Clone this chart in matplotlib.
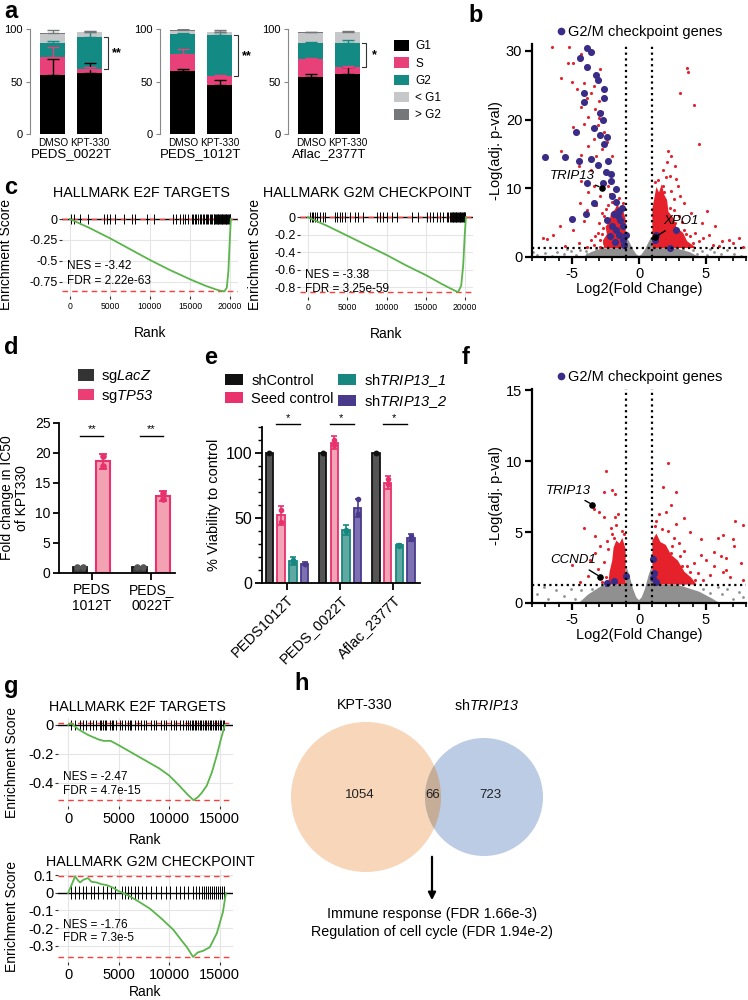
#!/usr/bin/env python3
import matplotlib
matplotlib.use('Agg')
import matplotlib.pyplot as plt
import numpy as np
from matplotlib.patches import Patch, Circle
from matplotlib.lines import Line2D

plt.rcParams['font.family'] = ['Liberation Sans', 'DejaVu Sans']
plt.rcParams['mathtext.fontset'] = 'custom'
plt.rcParams['mathtext.rm'] = 'Liberation Sans'
plt.rcParams['mathtext.it'] = 'Liberation Sans:italic'
# \mathsf is used for italic gene names so that digits are slanted as well
plt.rcParams['mathtext.sf'] = 'Liberation Sans:italic'
plt.rcParams['axes.unicode_minus'] = False

# ---------------- data ----------------
# a: cell cycle phases (%), stacked from the bottom
phases = ['G1', 'S', 'G2', '< G1', '> G2']
a_lines = ['PEDS_0022T', 'PEDS_1012T', 'Aflac_2377T']
a_treat = ['DMSO', 'KPT-330']
a_0022_dmso = [56, 17, 14, 8, 1]
a_0022_dmso_err = [15, 10, 2, 1, 3]
a_0022_kpt = [58, 4, 30, 5, 0.5]
a_0022_kpt_err = [10, 1.5, 5, 1, 1]
a_1012_dmso = [60, 16, 19, 3.5, 0.5]
a_1012_dmso_err = [2, 5, 1, 1, 1]
a_1012_kpt = [47, 8, 39, 3, 0.5]
a_1012_kpt_err = [4, 1, 3, 1, 2]
a_2377_dmso = [54, 17, 16, 9, 1]
a_2377_dmso_err = [3, 1.5, 0.5, 0.5, 0.5]
a_2377_kpt = [57, 7, 23, 10, 0.5]
a_2377_kpt_err = [7, 1, 3, 0.5, 0.5]
a_sig = ['**', '**', '*']

# b: volcano, KPT-330 vs DMSO  (log2FC, -log10 adj p)
b_g2m = [(-3.9, 30.4), (-3.6, 29.9), (-4.4, 29.0), (-3.9, 27.6), (-3.2, 26.5), (-3.1, 25.8),
         (-2.6, 24.5), (-4.1, 23.8), (-2.6, 23.1), (-4.1, 22.5), (-2.9, 20.9), (-2.7, 19.9),
         (-3.4, 18.8), (-4.7, 18.2), (-2.9, 17.8), (-2.4, 17.5), (-2.6, 16.5), (-7.0, 14.5),
         (-5.5, 14.5), (-4.5, 13.9), (-3.6, 14.2), (-2.3, 14.0), (-3.1, 13.4), (-2.5, 12.4),
         (-2.1, 12.1), (-3.9, 10.8), (-2.1, 11.1), (-1.7, 9.9), (-2.0, 8.9), (-1.7, 8.0),
         (-3.4, 7.8), (-1.5, 6.7), (-1.6, 5.9), (-5.0, 5.5), (-4.0, 6.2), (-2.4, 5.4),
         (-1.4, 5.4), (-2.0, 4.5), (-1.2, 4.5), (-1.7, 4.0), (-1.0, 3.2), (-1.5, 3.2),
         (-1.2, 2.5), (-2.2, 3.0), (-1.9, 6.3), (-1.3, 7.2), (-1.8, 2.2), (-1.1, 1.7),
         (-2.7, 10.7), (2.8, 4.0), (1.3, 3.2), (2.3, 1.3), (1.2, 2.5)]
b_sig = [(-6.5, 30.5), (-5.2, 30.5), (-4.3, 29.6), (-5.3, 28.2), (-4.9, 28.2), (-5.8, 26.1),
         (-5.0, 25.4), (-2.9, 27.3), (-4.1, 25.3), (-3.4, 24.9), (-4.6, 24.5), (-3.6, 23.9),
         (-3.9, 23.1), (-3.0, 22.7), (-4.3, 21.9), (-3.3, 21.6), (-2.8, 21.1), (-3.8, 20.4),
         (-3.0, 20.3), (-4.1, 19.4), (-3.1, 19.2), (-4.9, 18.9), (-2.6, 18.2), (-3.4, 17.2),
         (-2.4, 16.7), (-3.8, 16.2), (-2.8, 15.7), (-5.8, 15.5), (-4.3, 14.9), (-3.2, 14.7),
         (-2.0, 14.7), (-4.5, 13.3), (-3.6, 12.7), (-2.5, 12.3), (-4.3, 11.1), (-3.4, 10.3),
         (-2.3, 10.3), (-3.8, 9.4), (-2.9, 8.9), (-4.4, 7.9), (-3.2, 7.6), (-3.9, 6.9),
         (-2.8, 6.4), (-5.9, 4.5), (-4.1, 5.2), (-4.9, 4.0), (-3.1, 3.5), (-7.2, 2.8),
         (-6.9, 2.6), (-3.6, 2.5), (-2.6, 2.0), (-3.4, 1.8), (-6.4, 3.2), (-2.2, 9.2),
         (-2.5, 7.0), (-3.0, 5.0), (-2.7, 4.2), (-3.3, 3.0), (-4.5, 2.0), (-5.5, 1.6),
         (-3.9, 1.5), (-2.9, 1.5), (-2.8, 3.3), (-2.9, 2.5), (-2.3, 7.6), (-2.0, 8.0),
         (-1.5, 8.6), (-1.2, 7.9), (-2.6, 5.9),
         (3.6, 27.5), (3.7, 26.9), (4.1, 22.1), (3.1, 23.8), (4.5, 16.5), (2.2, 15.5),
         (2.7, 13.3), (2.3, 11.8), (2.9, 10.3), (2.6, 8.4), (3.4, 7.9), (1.9, 9.4),
         (3.9, 6.4), (5.1, 6.7), (4.7, 5.0), (5.7, 4.5), (3.4, 4.0), (4.2, 3.5),
         (5.2, 3.2), (6.2, 2.3), (6.7, 2.5), (7.5, 2.8), (7.0, 2.0), (4.5, 2.3),
         (3.2, 2.0), (5.5, 1.8), (1.8, 12.7), (2.1, 13.8), (2.4, 14.7), (2.8, 11.3),
         (1.8, 10.3), (3.0, 6.0), (2.7, 5.0), (3.8, 3.0), (4.8, 2.8), (6.0, 1.6),
         (7.8, 1.5), (3.1, 8.9), (2.3, 7.2), (1.4, 11.2), (1.2, 10.9), (2.4, 9.6),
         (2.6, 6.9), (3.2, 5.1), (3.5, 3.3), (4.0, 2.0), (2.0, 11.6)]
b_sig_core_dn = [(-2.6, 1.3), (-2.7, 2.4), (-2.4, 3.3), (-2.5, 4.4), (-2.2, 5.2), (-2.1, 6.4),
                 (-1.8, 6.9), (-1.6, 7.8), (-1.4, 6.6), (-1.2, 6.9), (-1.0, 5.5), (-1.0, 1.3)]
b_sig_core_up = [(1.0, 1.3), (1.0, 7.0), (1.15, 8.6), (1.3, 10.2), (1.5, 9.4), (1.7, 10.6),
                 (1.9, 9.0), (2.1, 8.3), (2.2, 6.6), (2.6, 5.6), (2.8, 4.3), (3.3, 3.5),
                 (3.6, 2.3), (4.1, 1.6), (4.3, 1.3)]
b_ns_core = [(-4.2, 0.0), (-3.6, 0.7), (-2.8, 1.25), (-1.0, 1.3), (-0.95, 3.0), (-0.7, 2.1),
             (-0.45, 1.1), (-0.2, 0.4), (0.0, 0.15), (0.2, 0.4), (0.45, 1.1), (0.7, 2.1),
             (0.95, 3.0), (1.0, 1.3), (2.8, 1.25), (3.8, 0.7), (4.5, 0.0)]
b_ns = [(-7.6, 0.3), (-7.0, 0.6), (-6.5, 0.2), (-6.1, 0.8), (-5.6, 0.4), (-5.1, 0.9),
        (-4.7, 0.3), (-4.4, 1.0), (4.7, 0.9), (5.1, 0.3), (5.6, 0.7), (6.1, 0.4),
        (6.6, 1.0), (7.1, 0.5), (7.6, 0.2), (5.3, 1.1), (-5.4, 1.1), (-7.9, 0.8),
        (-4.0, 0.9), (-3.9, 0.4), (4.0, 1.0), (4.3, 0.5), (-3.2, 1.2), (3.3, 1.15)]
b_labels = ['TRIP13', 'XPO1']
b_label_pts = [(-2.8, 10.1), (1.2, 2.9)]

# c: GSEA KPT-330
c_e2f_rank = [0, 2500, 5000, 7500, 10000, 12500, 15000, 17000, 18500, 19300, 19600, 19800, 19950, 20100]
c_e2f_es = [0, -0.11, -0.23, -0.36, -0.49, -0.61, -0.72, -0.80, -0.85, -0.865, -0.82, -0.62, -0.30, 0.0]
c_e2f_hits = [100, 500, 1250, 2200, 4200, 4600, 5000, 5600, 6700, 7700, 8100, 9600, 10500, 12900,
              13300, 13700, 14100, 14400, 14800, 15200, 15400, 15600, 15800, 16000, 16250, 16400,
              16600, 16800, 17000, 17150, 17300, 17500, 17650, 17800, 17950, 18050, 18150, 18250,
              18350, 18450, 18550, 18650, 18750, 18850, 18950, 19050, 19150, 19250, 19350, 19450,
              19550, 19650, 19750, 19850, 19950, 20050]
c_g2m_rank = [0, 2500, 5000, 7500, 10000, 12500, 15000, 17000, 18300, 19100, 19500, 19750, 19950, 20100]
c_g2m_es = [0, -0.10, -0.21, -0.32, -0.43, -0.55, -0.66, -0.76, -0.82, -0.855, -0.78, -0.55, -0.20, 0.0]
c_g2m_hits = [250, 470, 680, 890, 1100, 1530, 1950, 2170, 3440, 3650, 4080, 4290, 4710, 5350,
              5990, 6410, 7050, 8750, 9170, 9600, 10020, 10660, 11300, 13210, 14060, 15120,
              15540, 15960, 16390, 16820, 17240, 17670, 17880, 18100, 18200, 18300, 18400,
              18500, 18600, 18700, 18800, 18900, 19000, 19100, 19200, 19300, 19400, 19500,
              19600, 19700, 19800, 19900, 20000]
c_stats = [('-3.42', '2.22e-63'), ('-3.38', '3.25e-59')]

# d: IC50 fold change
d_lines = ['PEDS\n1012T', 'PEDS_\n0022T']
d_lacz = [1.0, 1.0]
d_tp53 = [18.6, 12.8]
d_tp53_err = [1.3, 0.8]
d_lacz_pts = [[1.0, 1.0], [1.0, 1.0]]
d_tp53_pts = [[19.5, 17.8], [13.3, 12.3]]

# e: viability
e_lines = ['PEDS1012T', 'PEDS_0022T', 'Aflac_2377T']
e_groups = ['shControl', 'Seed control', 'sh$\\mathsf{TRIP13\\_1}$', 'sh$\\mathsf{TRIP13\\_2}$']
e_shctrl = [100, 100, 100]
e_seed = [52, 108, 77]
e_t1 = [17, 41, 29]
e_t2 = [15, 58, 35]
e_seed_err = [7, 5, 5]
e_t1_err = [3, 4, 1]
e_t2_err = [1, 7, 3]
e_seed_pts = [[56, 47], [110, 106], [80, 76]]
e_t1_pts = [[17.5, 16.5], [41, 40], [29, 28.5]]
e_t2_pts = [[15, 14.5], [65, 53], [34, 36]]

# f: volcano, shTRIP13
f_g2m = [(-2.4, 1.43), (-1.9, 1.57), (-1.0, 1.92), (1.03, 3.08), (1.1, 2.09), (1.04, 1.74), (1.25, 1.48)]
f_sig = [(-2.5, 9.3), (-2.6, 7.8), (-2.0, 8.0), (-1.8, 7.7), (-4.1, 5.3), (-3.4, 6.6), (-3.0, 6.4),
         (-2.6, 6.1), (-1.8, 6.1), (-1.6, 6.3), (-2.1, 5.3), (-1.7, 5.5), (-2.0, 4.9), (-3.3, 4.7),
         (-1.9, 4.6), (-2.9, 4.0), (-3.3, 3.5), (-5.0, 2.7), (-3.7, 3.0), (-2.3, 3.8), (-3.8, 1.9),
         (-4.4, 1.5), (-3.1, 2.4), (-2.6, 2.9), (-2.5, 1.8), (-2.8, 1.5), (-2.4, 4.4),
         (-1.3, 5.1), (-1.1, 4.9),
         (2.2, 9.9), (1.8, 8.2), (2.8, 7.8), (2.4, 6.9), (2.0, 6.4), (1.5, 6.3), (3.4, 6.0),
         (2.8, 5.6), (2.2, 5.1), (3.8, 5.0), (4.6, 4.5), (5.9, 4.6), (6.3, 4.8), (7.0, 4.5),
         (7.1, 4.0), (7.8, 5.5), (7.2, 5.8), (5.6, 3.6), (6.1, 3.3), (6.5, 3.2), (6.5, 2.3),
         (7.6, 2.8), (6.8, 1.85), (4.1, 2.8), (3.8, 2.2), (3.4, 3.7), (6.3, 2.2), (7.8, 1.6),
         (4.2, 1.6), (2.4, 3.5), (3.0, 4.2), (5.0, 3.0), (5.3, 2.0), (4.6, 3.4), (2.6, 4.6),
         (3.2, 2.6), (1.2, 5.4), (1.7, 5.2), (2.5, 4.0), (3.1, 3.3), (3.6, 2.6), (4.4, 2.1),
         (4.8, 1.6), (5.6, 2.6), (1.3, 5.8)]
f_sig_core_dn = [(-2.3, 1.3), (-2.2, 2.2), (-2.0, 3.0), (-1.9, 3.9), (-1.7, 4.4), (-1.45, 4.2),
                 (-1.25, 4.6), (-1.0, 3.8), (-1.0, 1.3)]
f_sig_core_up = [(1.0, 1.3), (1.0, 4.4), (1.3, 4.9), (1.6, 4.3), (2.0, 4.1), (2.4, 3.4),
                 (2.9, 3.0), (3.4, 2.2), (3.9, 1.8), (4.3, 1.3)]
f_ns_core = [(-4.5, 0.0), (-3.8, 0.6), (-2.8, 1.2), (-1.0, 1.3), (-0.95, 2.6), (-0.7, 1.9),
             (-0.45, 1.0), (-0.2, 0.4), (0.0, 0.2), (0.2, 0.4), (0.45, 1.0), (0.7, 1.9),
             (0.95, 2.6), (1.0, 1.3), (3.0, 1.25), (4.5, 0.8), (5.5, 0.3), (6.0, 0.0)]
f_ns = [(-7.6, 0.6), (-6.8, 0.3), (-6.2, 0.9), (-5.6, 0.5), (-5.1, 1.0), (-4.8, 0.3), (6.2, 0.6),
        (6.6, 1.0), (7.0, 0.3), (7.5, 0.8), (5.9, 1.1), (-7.1, 1.1), (-4.3, 0.9), (7.8, 0.4),
        (-3.5, 1.0), (4.8, 1.0), (5.3, 0.7)]
f_labels = ['TRIP13', 'CCND1']
f_label_pts = [(-3.5, 6.95), (-2.9, 1.85)]

# g: GSEA shTRIP13
g_e2f_rank = [0, 300, 1000, 2000, 3000, 3500, 4200, 5000, 6000, 7000, 8000, 9000, 10000, 11000,
              11800, 12400, 12800, 13200, 13700, 14200, 14700, 15100, 15500]
g_e2f_es = [0, 0.012, -0.03, -0.07, -0.10, -0.11, -0.11, -0.14, -0.18, -0.22, -0.26, -0.30,
            -0.35, -0.42, -0.48, -0.52, -0.50, -0.47, -0.42, -0.33, -0.21, -0.10, 0.0]
g_e2f_hits = [330, 660, 1150, 1500, 1810, 2140, 2500, 2800, 3130, 3300, 3460, 3650, 3790, 4120,
              4300, 4440, 4770, 5100, 5350, 5600, 5920, 6100, 6250, 6580, 6910, 7240, 7500,
              7740, 8230, 8500, 8720, 9220, 9500, 9710, 10210, 10500, 10700, 11030, 11350,
              11680, 11850, 12010, 12200, 12340, 12500, 12670, 12850, 13000, 13150, 13330,
              13500, 13660, 13800, 13990, 14150, 14320, 14500, 14650, 14800, 14980, 15150,
              15300, 15450]
g_g2m_rank = [0, 300, 690, 1000, 1180, 1500, 1970, 2300, 2800, 3300, 3800, 4440, 5000, 5820,
              7000, 8100, 9300, 10400, 11200, 11750, 12350, 12800, 13350, 14000, 14700, 15300, 15600]
g_g2m_es = [0, 0.04, 0.095, 0.07, 0.06, 0.075, 0.085, 0.064, 0.06, 0.05, 0.045, 0.03, 0.01,
            -0.01, -0.05, -0.09, -0.15, -0.21, -0.27, -0.31, -0.365, -0.34, -0.33, -0.31,
            -0.23, -0.11, 0.0]
g_g2m_hits = [300, 700, 1100, 1500, 1800, 2300, 2600, 3000, 3400, 3800, 4200, 4600, 5300, 5600,
              5900, 6200, 6600, 6900, 7300, 7700, 8200, 8700, 9200, 9700, 10100, 10700, 11100,
              11500, 11900, 12300, 12600, 12900, 13200, 13400, 13600, 13800, 14000, 14200,
              14400, 14600, 14800, 15000, 15200, 15400]
g_stats = [('-2.47', '4.7e-15'), ('-1.76', '7.3e-5')]

# h: Venn
h_sets = ['KPT-330', 'sh$\\mathsf{TRIP13}$']
h_counts = [1054, 66, 723]
h_terms = ['Immune response (FDR 1.66e-3)', 'Regulation of cell cycle (FDR 1.94e-2)']

# ---------------- figure ----------------
W, H = 748, 1000
fig = plt.figure(figsize=(W / 100, H / 100), dpi=100)


def px_axes(l, t, r, b):
    return fig.add_axes([l / W, 1 - b / H, (r - l) / W, (b - t) / H])


def letter(x, y, s):
    fig.text(x / W, 1 - y / H, s, fontsize=17, fontweight='bold', va='center', ha='left')


# ---- a ----
a_colors = ['#000000', '#e8417a', '#148a85', '#c6c7c9', '#75777a']
a_sets = [(a_0022_dmso, a_0022_dmso_err, a_0022_kpt, a_0022_kpt_err),
          (a_1012_dmso, a_1012_dmso_err, a_1012_kpt, a_1012_kpt_err),
          (a_2377_dmso, a_2377_dmso_err, a_2377_kpt, a_2377_kpt_err)]
a_boxes = [(30, 29, 112, 134), (160, 29, 242, 134), (288, 29, 370, 134)]
for box, name, (dv, de, kv, ke), sig in zip(a_boxes, a_lines, a_sets, a_sig):
    ax = px_axes(*box)
    for xi, (vals, errs) in enumerate([(dv, de), (kv, ke)]):
        vals = np.array(vals, float)
        bottoms = np.concatenate([[0], np.cumsum(vals)[:-1]])
        ax.bar(xi, vals, bottom=bottoms, width=0.68, color=a_colors, zorder=2)
        for top, e, c in zip(bottoms + vals, errs, a_colors):
            ax.errorbar(xi, top, yerr=[[0], [e]], fmt='none', ecolor=c, capsize=4,
                        elinewidth=1, capthick=1, zorder=3)
    lo = kv[0] + kv[1]
    hi = lo + kv[2]
    ax.plot([1.38, 1.5, 1.5, 1.38], [hi, hi, lo, lo], color='#333333', lw=0.8, clip_on=False)
    ax.text(1.72, (lo + hi) / 2, sig, fontsize=9, fontweight='bold', ha='center', va='center')
    ax.set_xlim(-0.62, 1.6)
    ax.set_ylim(0, 100)
    ax.set_yticks([0, 50, 100])
    ax.set_xticks([0, 1])
    ax.set_xticklabels(a_treat, fontsize=7.2)
    ax.tick_params(axis='x', length=0, pad=3)
    ax.tick_params(axis='y', length=3, color='#888888', labelsize=8, pad=2)
    for s in ['top', 'right', 'bottom']:
        ax.spines[s].set_visible(False)
    ax.spines['left'].set_color('#888888')
    ax.set_xlabel(name, fontsize=9.5, labelpad=0)
fig.legend([Patch(facecolor=c) for c in a_colors], phases, loc='upper left',
           bbox_to_anchor=(394 / W, 1 - 40 / H), frameon=False, fontsize=8.5,
           handlelength=1.3, handleheight=1.0, labelspacing=0.42, handletextpad=0.5,
           borderpad=0, borderaxespad=0)
letter(4, 12, 'a')

# ---- volcano helper ----
V_RED, V_GRAY, V_BLUE = '#e5212b', '#909090', '#3a2d87'


def volcano(box, ylim, yticks, ns_core, ns, core_dn, core_up, sig, genes, labels, lab_pts,
            lab_text, lab_ls):
    ax = px_axes(*box)
    ax.fill(*np.array(ns_core).T, color=V_GRAY, lw=0, zorder=1)
    ax.scatter(*np.array(ns).T, s=4, color=V_GRAY, lw=0, zorder=1)
    ax.fill(*np.array(core_dn).T, color=V_RED, lw=0, zorder=2)
    ax.fill(*np.array(core_up).T, color=V_RED, lw=0, zorder=2)
    ax.scatter(*np.array(sig).T, s=5, color=V_RED, lw=0, zorder=2)
    ax.scatter(*np.array(genes).T, s=26, color=V_BLUE, lw=0, zorder=3)
    dots = (0, (1, 1.6))
    ax.axhline(1.3, color='black', lw=1.6, ls=dots, zorder=4)
    ax.axvline(-1, color='black', lw=1.6, ls=dots, zorder=4)
    ax.axvline(1, color='black', lw=1.6, ls=dots, zorder=4)
    for name, pt, tp, ls in zip(labels, lab_pts, lab_text, lab_ls):
        ax.scatter(*pt, s=14, color='black', zorder=5)
        ax.annotate(name, xy=pt, xytext=tp, fontsize=9.5, fontstyle='italic', ha='left',
                    va='center', zorder=6,
                    arrowprops=dict(arrowstyle='-', color='black', lw=1, ls=ls,
                                    shrinkA=1, shrinkB=2))
    ax.set_xlim(-8, 8)
    ax.set_ylim(*ylim)
    ax.set_xticks([-5, 0, 5])
    ax.set_xticks(np.arange(-8, 9), minor=True)
    ax.set_yticks(yticks)
    for s in ['top', 'right']:
        ax.spines[s].set_visible(False)
    for s in ['left', 'bottom']:
        ax.spines[s].set_linewidth(1.6)
    ax.tick_params(which='major', length=5, width=1.6, labelsize=10.5, pad=2)
    ax.tick_params(which='minor', length=3, width=1.2)
    ax.set_xlabel('Log2(Fold Change)', fontsize=10.5, labelpad=1)
    ax.set_ylabel('-Log(adj. p-val)', fontsize=10.5, labelpad=2)
    ax.legend([Line2D([], [], marker='o', ls='', color=V_BLUE, markersize=4.5)],
              ['G2/M checkpoint genes'], loc='lower center', bbox_to_anchor=(0.5, 1.025),
              frameon=False, fontsize=10.5, handletextpad=0.1, borderaxespad=0,
              borderpad=0, handlelength=0.8)
    return ax


volcano((532, 44, 746, 257), (0, 31), [0, 10, 20, 30], b_ns_core, b_ns, b_sig_core_dn,
        b_sig_core_up, b_sig, b_g2m, b_labels, b_label_pts, [(-6.7, 11.8), (1.8, 5.2)],
        ['--', '-'])
letter(468, 15, 'b')

volcano((532, 389, 746, 603), (0, 15.1), [0, 5, 10, 15], f_ns_core, f_ns, f_sig_core_dn,
        f_sig_core_up, f_sig, f_g2m, f_labels, f_label_pts, [(-7.0, 7.9), (-6.6, 3.0)],
        ['-', '-'])
letter(462, 357, 'f')


# ---- GSEA helper ----
def gsea(box, rank, es, hits, hit_h, xlim, ylim, xticks, yticks, ylabs, stats, txt_y,
         fs_tick, fs_xtick, ylab_x, rank_y, title, title_xy, title_fs):
    ax = px_axes(*box)
    ax.set_xlim(*xlim)
    ax.set_ylim(*ylim)
    ax.set_xticks(xticks)
    ax.set_yticks(yticks)
    ax.set_yticklabels(ylabs)
    ax.grid(True, color='#e5e5e5', lw=0.8)
    ax.set_axisbelow(True)
    for s in ax.spines.values():
        s.set_visible(False)
    ax.axhline(0, color='black', lw=1, zorder=2)
    ax.axhline(max(es), color='#ff3b3b', lw=1, ls=(0, (4, 3)), zorder=2.5)
    ax.axhline(min(es), color='#ff3b3b', lw=1, ls=(0, (4, 3)), zorder=2.5)
    ax.vlines(hits, -hit_h, hit_h, color='black', lw=0.7, zorder=3)
    ax.plot(rank, es, color='#5ab54b', lw=1.3, zorder=4)
    ax.tick_params(axis='y', length=2, color='#333333', labelsize=fs_tick, pad=1)
    ax.tick_params(axis='x', length=2, color='#333333', labelsize=fs_xtick, pad=2)
    ax.set_ylabel('Enrichment Score', fontsize=10)
    ax.yaxis.set_label_coords(ylab_x, 0.5)
    ax.set_xlabel('Rank', fontsize=10)
    ax.xaxis.set_label_coords(0.5, rank_y)
    nes, fdr = stats
    ax.text(0.03, txt_y[0], f'NES = {nes}', transform=ax.transAxes, fontsize=8.5, va='center')
    ax.text(0.03, txt_y[1], f'FDR = {fdr}', transform=ax.transAxes, fontsize=8.5, va='center')
    fig.text(title_xy[0] / W, 1 - title_xy[1] / H, title, fontsize=title_fs,
             ha='center', va='center')
    return ax


gsea((62, 214, 238, 296), c_e2f_rank, c_e2f_es, c_e2f_hits, 0.055, (-1000, 21000),
     (-0.92, 0.06), [0, 5000, 10000, 15000, 20000], [0, -0.25, -0.5, -0.75],
     ['0', '-0.25', '-0.5', '-0.75'], c_stats[0], (0.36, 0.18), 9, 6.2, -0.28, -0.36,
     'HALLMARK E2F TARGETS', (141, 193), 10.3)
gsea((300, 212, 473, 297), c_g2m_rank, c_g2m_es, c_g2m_hits, 0.055, (-1000, 21000),
     (-0.91, 0.06), [0, 5000, 10000, 15000, 20000], [0, -0.2, -0.4, -0.6, -0.8],
     ['0', '-0.2', '-0.4', '-0.6', '-0.8'], c_stats[1], (0.26, 0.09), 9, 6.2, -0.22, -0.35,
     'HALLMARK G2M CHECKPOINT', (367, 193), 10.3)
letter(4, 188, 'c')

gsea((58, 718, 233, 806), g_e2f_rank, g_e2f_es, g_e2f_hits, 0.035, (-1000, 16300),
     (-0.56, 0.048), [0, 5000, 10000, 15000], [0, -0.2, -0.4], ['0', '-0.2', '-0.4'],
     g_stats[0], (0.33, 0.17), 10.5, 10.5, -0.22, -0.31,
     'HALLMARK E2F TARGETS', (137, 707), 10.3)
gsea((58, 870, 233, 962), g_g2m_rank, g_g2m_es, g_g2m_hits, 0.037, (-1000, 16300),
     (-0.394, 0.131), [0, 5000, 10000, 15000], [0.1, 0, -0.1, -0.2, -0.3],
     ['0.1', '0', '-0.1', '-0.2', '-0.3'], g_stats[1], (0.40, 0.26), 10.5, 10.5, -0.22, -0.25,
     'HALLMARK G2M CHECKPOINT', (150, 862), 10.3)
letter(4, 687, 'g')

# ---- d ----
LACZ_FILL, LACZ_EDGE = '#3d3d3d', '#111111'
TP_FILL, TP_EDGE = '#f3a2b3', '#e8316d'
axd = px_axes(59, 423, 175, 573)
xd = np.arange(len(d_lines))
off, bw = 0.195, 0.24
axd.bar(xd - off, d_lacz, width=bw, color=LACZ_FILL, edgecolor=LACZ_EDGE, lw=1.3, zorder=2)
axd.bar(xd + off, d_tp53, width=bw, color=TP_FILL, edgecolor=TP_EDGE, lw=1.5, zorder=2)
axd.errorbar(xd + off, d_tp53, yerr=d_tp53_err, fmt='none', ecolor=TP_EDGE, capsize=3,
             elinewidth=1.3, capthick=1.3, zorder=3)
for i in range(len(d_lines)):
    axd.scatter([xd[i] - off - 0.05, xd[i] - off + 0.05], d_lacz_pts[i], s=14, color='#555555', zorder=4)
    axd.scatter([xd[i] + off, xd[i] + off], d_tp53_pts[i], s=14, color=TP_EDGE, zorder=4)
    axd.plot([xd[i] - off, xd[i] + off], [22.8, 22.8], color='black', lw=1, clip_on=False)
    axd.text(xd[i], 23.2, '**', fontsize=8, ha='center', va='bottom')
axd.set_xlim(-0.55, 1.4)
axd.set_ylim(0, 25)
axd.set_yticks(np.arange(0, 26, 5))
axd.set_xticks(xd)
axd.set_xticklabels(d_lines, fontsize=10, linespacing=1.2)
for s in ['top', 'right']:
    axd.spines[s].set_visible(False)
for s in ['left', 'bottom']:
    axd.spines[s].set_linewidth(1.3)
axd.tick_params(axis='y', labelsize=10, length=4, width=1.3, pad=2)
axd.tick_params(axis='x', length=5, width=1.3, pad=2)
axd.set_ylabel('Fold change in IC50\nof KPT330', fontsize=10, linespacing=1.1, labelpad=4)
fig.legend([Patch(facecolor='#333333'), Patch(facecolor='#ea3e74')],
           ['sg$\\mathsf{LacZ}$', 'sg$\\mathsf{TP53}$'], loc='upper left',
           bbox_to_anchor=(78 / W, 1 - 368 / H), frameon=False, fontsize=10.5,
           handlelength=1.1, handleheight=0.8, labelspacing=0.2, handletextpad=0.5,
           borderpad=0, borderaxespad=0)
letter(4, 347, 'd')

# ---- e ----
e_fill = ['#555555', '#f3a5b7', '#5fa9a2', '#7d71b2']
e_edge = ['#111111', '#e8316d', '#17877f', '#4a3a8c']
axe = px_axes(262, 427, 420, 583)
xe = np.arange(len(e_lines))
e_off = [-0.33, -0.11, 0.11, 0.33]
e_vals = [e_shctrl, e_seed, e_t1, e_t2]
e_errs = [None, e_seed_err, e_t1_err, e_t2_err]
e_pts = [[[100, 100]] * 3, e_seed_pts, e_t1_pts, e_t2_pts]
for k in range(4):
    axe.bar(xe + e_off[k], e_vals[k], width=0.14, color=e_fill[k], edgecolor=e_edge[k],
            lw=1.3, zorder=2)
    if e_errs[k] is not None:
        axe.errorbar(xe + e_off[k], e_vals[k], yerr=e_errs[k], fmt='none', ecolor=e_edge[k],
                     capsize=2.5, elinewidth=1.2, capthick=1.2, zorder=3)
    for i in range(len(e_lines)):
        axe.scatter([xe[i] + e_off[k]] * 2, e_pts[k][i], s=9, color=e_edge[k], zorder=4)
for i in range(len(e_lines)):
    axe.plot([xe[i] - 0.2, xe[i] + 0.25], [122, 122], color='black', lw=1, clip_on=False)
    axe.text(xe[i] + 0.02, 123, '*', fontsize=8, ha='center', va='bottom')
axe.set_xlim(-0.47, 2.5)
axe.set_ylim(0, 120)
axe.set_yticks([0, 50, 100])
axe.set_yticks(np.arange(0, 121, 10), minor=True)
axe.set_xticks(xe)
axe.set_xticklabels(e_lines, rotation=45, ha='right', rotation_mode='anchor', fontsize=10.5)
for s in ['top', 'right']:
    axe.spines[s].set_visible(False)
for s in ['left', 'bottom']:
    axe.spines[s].set_linewidth(1.3)
axe.tick_params(axis='y', which='major', labelsize=11.5, length=5, width=1.3, pad=2)
axe.tick_params(axis='y', which='minor', length=3, width=1.0)
axe.tick_params(axis='x', length=5, width=1.3, pad=2)
axe.set_ylabel('% Viability to control', fontsize=10.5, labelpad=3)
fig.legend([Patch(facecolor=c) for c in e_edge], e_groups, loc='upper left', ncol=2,
           bbox_to_anchor=(225 / W, 1 - 372 / H), frameon=False, fontsize=10.5,
           handlelength=1.2, handleheight=0.8, labelspacing=0.25, handletextpad=0.6,
           columnspacing=0.3, borderpad=0, borderaxespad=0)
letter(204, 358, 'e')

# ---- h ----
axh = px_axes(280, 640, 748, 1000)
axh.set_xlim(280, 748)
axh.set_ylim(1000, 640)
axh.set_aspect('equal')
axh.axis('off')
c1 = Circle((366, 797), 75, facecolor='#f7d6b9', edgecolor='none')
c2 = Circle((484, 797), 59, facecolor='#bccce4', edgecolor='none')
c12 = Circle((484, 797), 59, facecolor='#c5ad98', edgecolor='none')
axh.add_patch(c1)
axh.add_patch(c2)
axh.add_patch(c12)
c12.set_clip_path(c1)
axh.text(365, 705, h_sets[0], fontsize=10.3, ha='center', va='center')
axh.text(487, 705, h_sets[1], fontsize=10.3, ha='center', va='center')
for xpos, n in zip([360, 433, 490], h_counts):
    axh.text(xpos, 795, str(n), fontsize=9.5, ha='center', va='center', color='#222222')
axh.annotate('', xy=(432, 903), xytext=(432, 854),
             arrowprops=dict(arrowstyle='-|>', color='black', lw=1.6, mutation_scale=11))
for yy, t in zip([914, 932], h_terms):
    axh.text(432, yy, t, fontsize=10.3, ha='center', va='center')
letter(294, 683, 'h')

plt.savefig('out.png', dpi=100)
plt.close()
